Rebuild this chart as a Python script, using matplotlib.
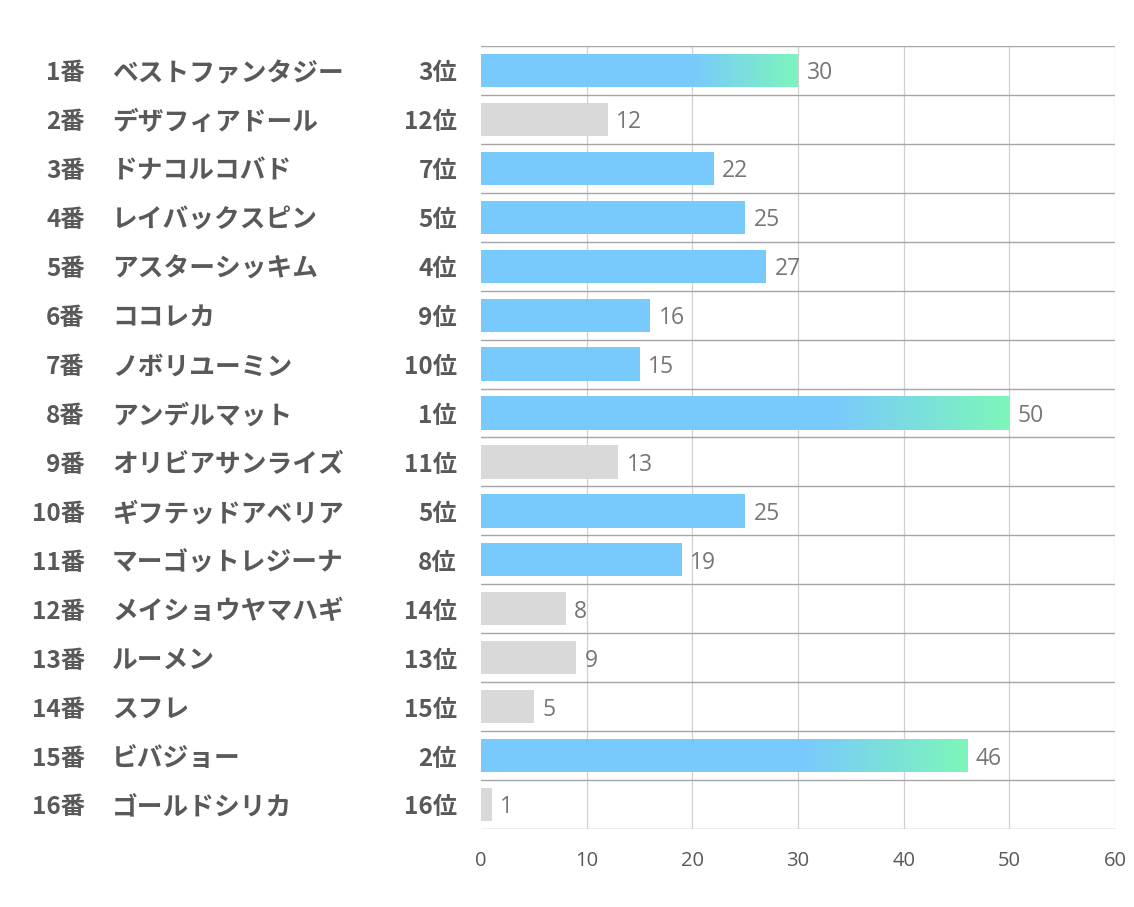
import matplotlib
matplotlib.use("Agg")
import matplotlib.pyplot as plt
import numpy as np
from matplotlib.colors import LinearSegmentedColormap

plt.rcParams['font.family'] = ['Noto Sans CJK JP', 'DejaVu Sans']

numbers = ["1番", "2番", "3番", "4番", "5番", "6番", "7番", "8番",
           "9番", "10番", "11番", "12番", "13番", "14番", "15番", "16番"]
names = ["ベストファンタジー", "デザフィアドール", "ドナコルコバド", "レイバックスピン",
         "アスターシッキム", "ココレカ", "ノボリユーミン", "アンデルマット",
         "オリビアサンライズ", "ギフテッドアベリア", "マーゴットレジーナ", "メイショウヤマハギ",
         "ルーメン", "スフレ", "ビバジョー", "ゴールドシリカ"]
ranks = [3, 12, 7, 5, 4, 9, 10, 1, 11, 5, 8, 14, 13, 15, 2, 16]
values = [30, 12, 22, 25, 27, 16, 15, 50, 13, 25, 19, 8, 9, 5, 46, 1]

BLUE = "#79CAFC"
GREEN = "#7DF9B5"
GRAY = "#D9D9D9"
TEXT = "#595959"

fig = plt.figure(figsize=(11.34, 9.07), dpi=100)
ax = fig.add_axes([0.4242, 0.0860, 0.9833 - 0.4242, 0.9493 - 0.0860])

n = len(values)
bh = 0.68
cmap = LinearSegmentedColormap.from_list("bg", [BLUE, GREEN])
grad = np.linspace(0, 1, 256).reshape(1, -1)
dy = 0.06

for i, (v, r) in enumerate(zip(values, ranks)):
    if r <= 3:
        bars = ax.barh(i, v, height=bh, color=BLUE, zorder=2, linewidth=0)
        patch = bars.patches[0]
        split = v * 2 / 3
        im = ax.imshow(grad, cmap=cmap, aspect='auto', zorder=2.1,
                       extent=(split, v + 1, i + 0.5, i - 0.5), interpolation='bilinear')
        im.set_clip_path(patch)
    elif r <= 10:
        ax.barh(i, v, height=bh, color=BLUE, zorder=2, linewidth=0)
    else:
        ax.barh(i, v, height=bh, color=GRAY, zorder=2, linewidth=0)
    ax.text(v + 0.8, i + dy, str(v), va='center', ha='left', fontsize=16.5,
            color="#767676", family=['Open Sans', 'DejaVu Sans'])

ax.set_xlim(0, 60)
ax.set_ylim(n - 0.5, -0.5)
ax.set_xticks(range(0, 61, 10))
ax.set_yticks([])
for s in ax.spines.values():
    s.set_visible(False)
ax.tick_params(axis='x', length=0, pad=16, labelsize=14.5, labelcolor=TEXT)
for lab in ax.get_xticklabels():
    lab.set_family(['Open Sans', 'DejaVu Sans'])

for x in range(10, 61, 10):
    ax.axvline(x, color="#D0D0D0", linewidth=0.9, zorder=1)
for b in np.arange(-0.5, n, 1):
    ax.axhline(b, color="#A6A6A6", linewidth=1.0, zorder=3)

trans = ax.get_yaxis_transform()
for i in range(n):
    ax.text(-0.625, i + dy, numbers[i], transform=trans,
            ha='right', va='center', fontsize=17.5, fontweight='bold', color=TEXT, clip_on=False)
    ax.text(-0.582, i + dy, names[i], transform=trans,
            ha='left', va='center', fontsize=18.5, fontweight='bold', color=TEXT, clip_on=False)
    ax.text(-0.038, i + dy, f"{ranks[i]}位", transform=trans,
            ha='right', va='center', fontsize=17.5, fontweight='bold', color=TEXT, clip_on=False)

fig.savefig("out.png", dpi=100, facecolor='white')
